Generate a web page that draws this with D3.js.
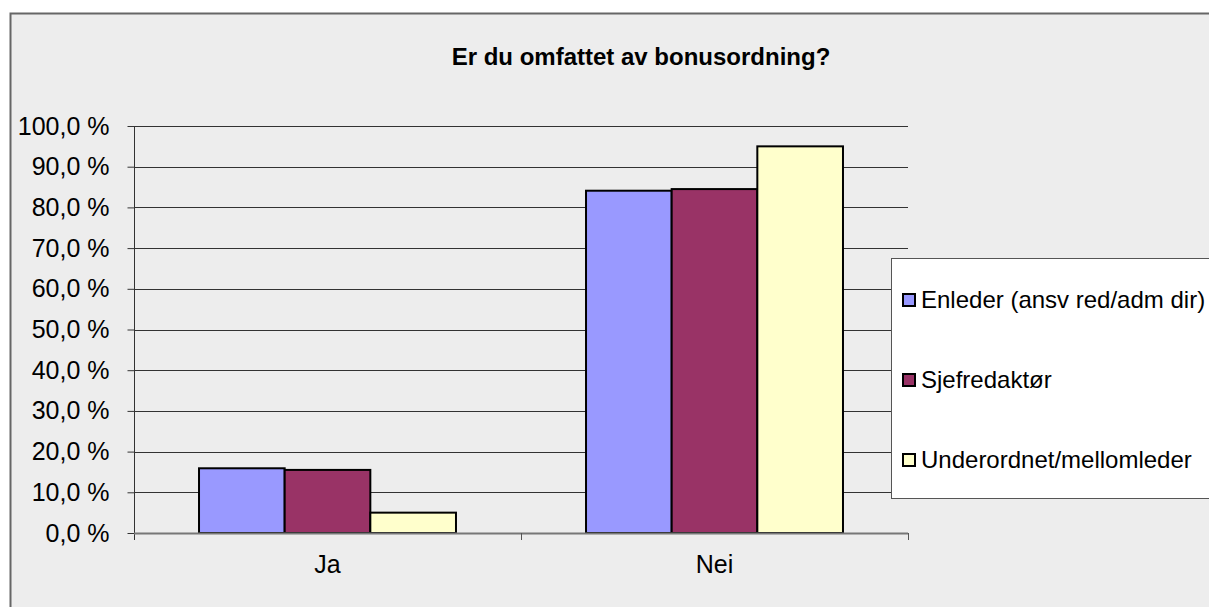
<!DOCTYPE html>
<html>
<head>
<meta charset="utf-8">
<script src="https://cdn.jsdelivr.net/npm/d3@7"></script>
<style>
  html, body { margin: 0; padding: 0; background: #fff; }
  svg { display: block; font-family: "Liberation Sans", Arial, sans-serif; }
</style>
</head>
<body>
<div id="chart"></div>
<script>
const title = "Er du omfattet av bonusordning?";
const categories = ["Ja", "Nei"];
const seriesNames = ["Enleder (ansv red/adm dir)", "Sjefredaktør", "Underordnet/mellomleder"];
const seriesColors = ["#9999ff", "#993366", "#ffffcc"];
const enleder = [15.9, 84.1];
const sjefredaktor = [15.5, 84.5];
const underordnet = [5.0, 95.0];
const yTicks = [0, 10, 20, 30, 40, 50, 60, 70, 80, 90, 100];

const values = [enleder, sjefredaktor, underordnet];

const width = 1209, height = 607;
const plot = { left: 134, right: 908, top: 126, bottom: 533 };

const svg = d3.select("#chart").append("svg")
  .attr("width", width)
  .attr("height", height);

// chart area
svg.append("rect")
  .attr("x", 10.5).attr("y", 13.5)
  .attr("width", width + 10).attr("height", height + 10)
  .attr("fill", "#ededed")
  .attr("stroke", "#666")
  .attr("stroke-width", 2);

svg.append("text")
  .attr("x", 641).attr("y", 65)
  .attr("text-anchor", "middle")
  .attr("font-size", 24)
  .attr("font-weight", "bold")
  .attr("fill", "#000")
  .text(title);

const y = d3.scaleLinear().domain([0, 100]).range([plot.bottom, plot.top]);
const x0 = d3.scaleBand().domain(categories)
  .range([plot.left, plot.right])
  .paddingInner(0.336).paddingOuter(0.168);
const x1 = d3.scaleBand().domain(d3.range(seriesNames.length))
  .range([0, x0.bandwidth()]);
const step = x0.step();

// gridlines
svg.append("g").selectAll("line")
  .data(yTicks.filter(d => d > 0))
  .enter().append("line")
  .attr("x1", plot.left).attr("x2", plot.right)
  .attr("y1", d => Math.round(y(d)) + 0.5).attr("y2", d => Math.round(y(d)) + 0.5)
  .attr("stroke", "#333")
  .attr("stroke-width", 1);

// y axis
const yAxis = svg.append("g")
  .attr("transform", `translate(${plot.left + 0.5},0)`)
  .call(d3.axisLeft(y).tickValues(yTicks).tickSize(7).tickPadding(18)
    .tickFormat(d => d.toFixed(1).replace(".", ",") + " %"));
yAxis.select(".domain").remove();
yAxis.selectAll(".tick line").attr("stroke", "#333");
yAxis.selectAll(".tick text")
  .attr("font-size", 25)
  .attr("font-family", "Liberation Sans, Arial, sans-serif")
  .attr("fill", "#000");
yAxis.append("line")
  .attr("x1", 0).attr("x2", 0)
  .attr("y1", plot.top).attr("y2", plot.bottom + 7)
  .attr("stroke", "#333");

// bars
const groups = svg.append("g").selectAll("g")
  .data(categories)
  .enter().append("g")
  .attr("transform", c => `translate(${x0(c)},0)`);

groups.selectAll("rect")
  .data((c, ci) => values.map((s, si) => ({ si, v: s[ci] })))
  .enter().append("rect")
  .attr("x", d => x1(d.si))
  .attr("y", d => y(d.v))
  .attr("width", x1.bandwidth())
  .attr("height", d => y(0) - y(d.v))
  .attr("fill", d => seriesColors[d.si])
  .attr("stroke", "#000")
  .attr("stroke-width", 2);

// x axis
svg.append("line")
  .attr("x1", plot.left).attr("x2", plot.right)
  .attr("y1", plot.bottom + 0.5).attr("y2", plot.bottom + 0.5)
  .attr("stroke", "#777")
  .attr("stroke-width", 2);

const bounds = categories.map(c => x0(c) - x0.paddingOuter() * step).concat([plot.right]);
svg.append("g").selectAll("line")
  .data(bounds.slice(1))
  .enter().append("line")
  .attr("x1", d => Math.round(d) + 0.5).attr("x2", d => Math.round(d) + 0.5)
  .attr("y1", plot.bottom).attr("y2", plot.bottom + 7)
  .attr("stroke", "#555");

svg.append("g").selectAll("text")
  .data(categories)
  .enter().append("text")
  .attr("x", c => x0(c) + x0.bandwidth() / 2)
  .attr("y", 573)
  .attr("text-anchor", "middle")
  .attr("font-size", 25)
  .attr("fill", "#000")
  .text(c => c);

// legend
const legend = svg.append("g");
legend.append("rect")
  .attr("x", 891.5).attr("y", 258.5)
  .attr("width", 340).attr("height", 240)
  .attr("fill", "#fff")
  .attr("stroke", "#555")
  .attr("stroke-width", 1);

const items = legend.selectAll("g.item")
  .data(seriesNames)
  .enter().append("g")
  .attr("class", "item")
  .attr("transform", (d, i) => `translate(0,${300 + i * 80})`);

items.append("rect")
  .attr("x", 903).attr("y", -6)
  .attr("width", 12).attr("height", 12)
  .attr("fill", (d, i) => seriesColors[i])
  .attr("stroke", "#000")
  .attr("stroke-width", 2);

items.append("text")
  .attr("x", 921).attr("y", 8)
  .attr("font-size", 24)
  .attr("fill", "#000")
  .text(d => d);
</script>
</body>
</html>
